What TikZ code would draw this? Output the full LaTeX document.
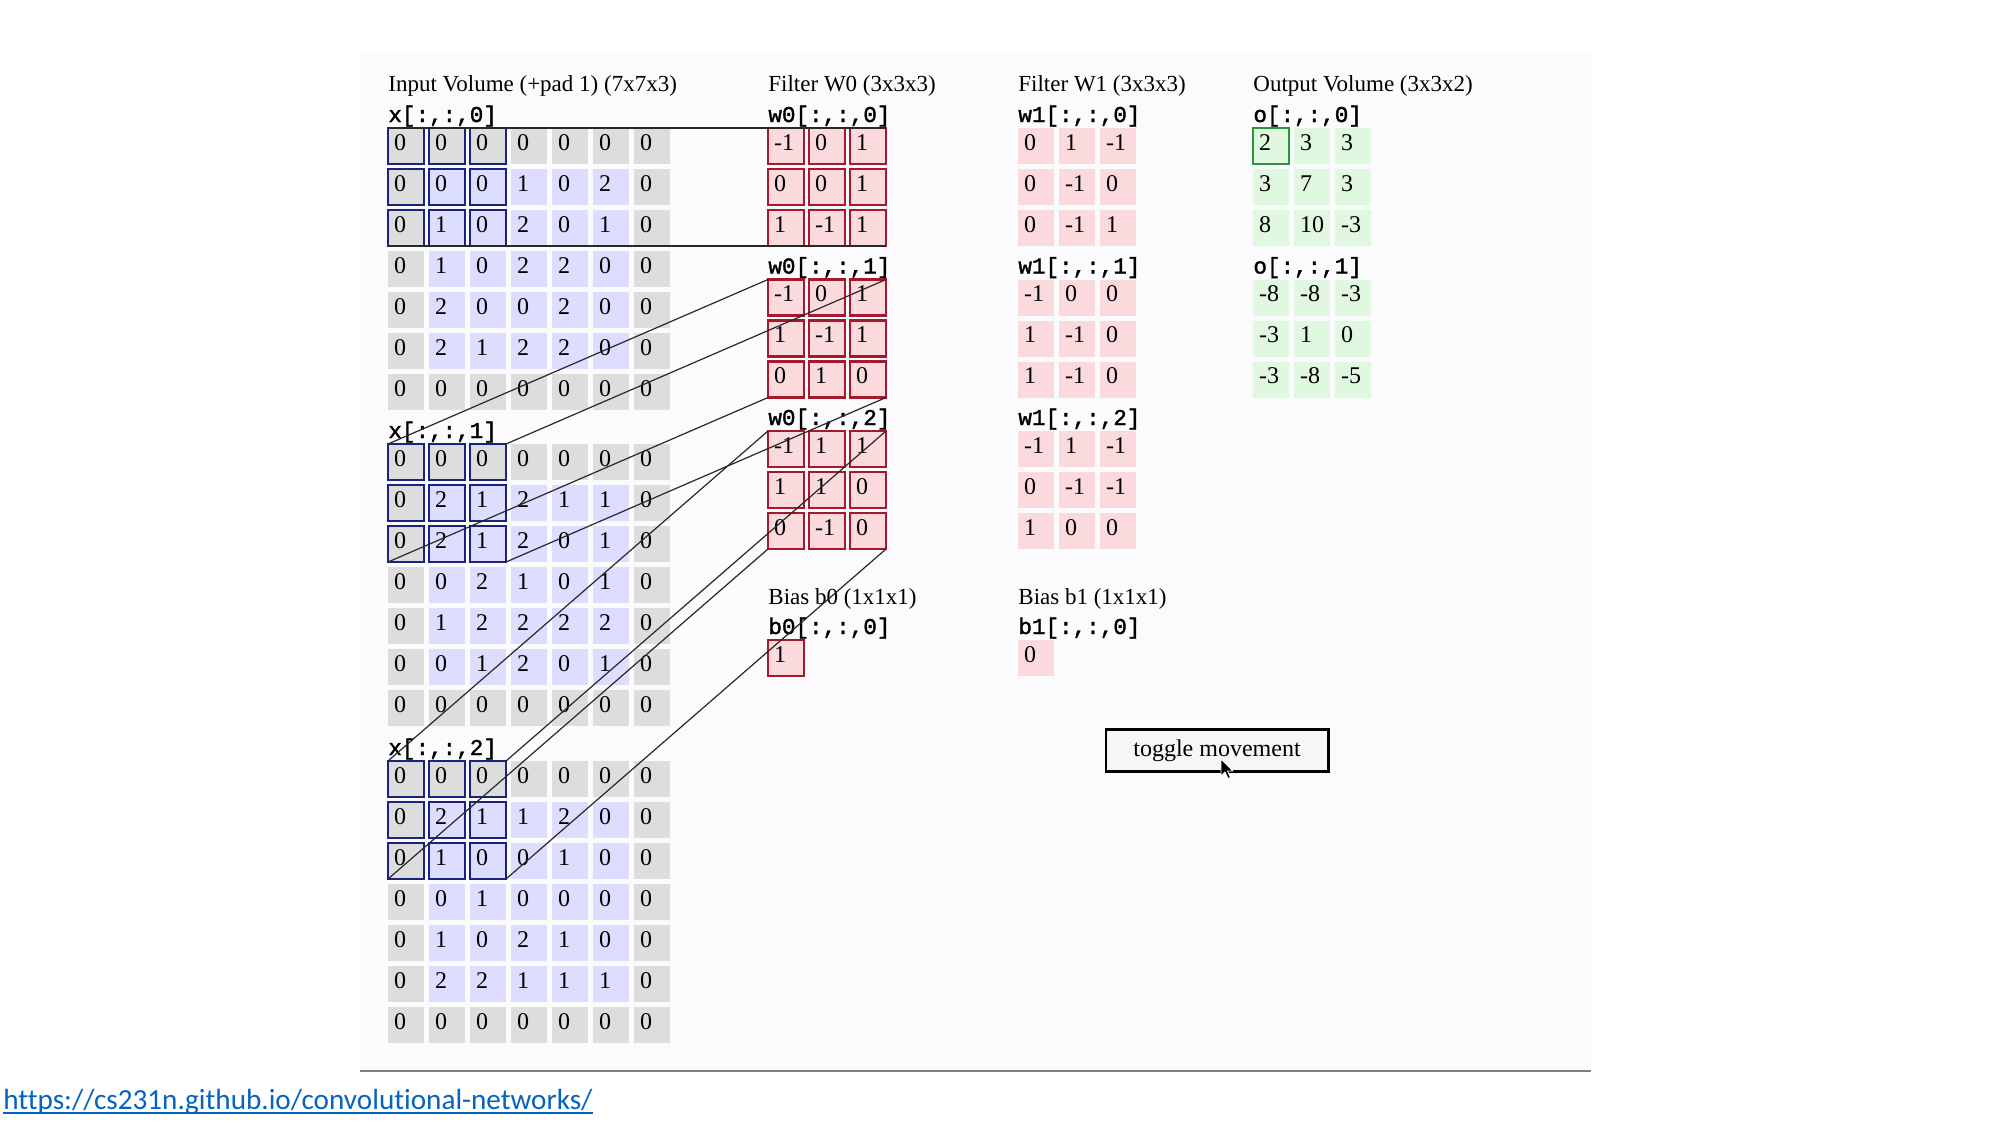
\documentclass[tikz,border=0pt]{standalone}
\usepackage{fontspec}
\setmainfont{Liberation Serif}
\newfontfamily\codefont{Liberation Mono}[BoldFont=Liberation Mono, BoldFeatures={FakeBold=1.6}]
\newfontfamily\linkfont{Carlito}[Ligatures=NoCommon]
\definecolor{padgray}{RGB}{221,221,221}
\definecolor{inblue}{RGB}{221,221,255}
\definecolor{winnavy}{RGB}{26,35,126}
\definecolor{fltpink}{RGB}{250,218,220}
\definecolor{fltred}{RGB}{165,25,45}
\definecolor{outgreen}{RGB}{224,247,224}
\definecolor{outborder}{RGB}{45,150,60}
\definecolor{webbg}{RGB}{251,250,253}
\definecolor{wirecol}{RGB}{40,40,40}
\definecolor{btnfill}{RGB}{246,246,248}
\definecolor{linkblue}{RGB}{5,99,193}

\begin{document}
\begin{tikzpicture}[x=0.5pt,y=0.5pt,yscale=-1,
  numcell/.style={rectangle, anchor=north west, inner xsep=3pt, inner ysep=0pt, outer sep=0pt,
    minimum width=18pt, minimum height=18pt, text width=12pt, align=left,
    text height=8.6pt, text depth=4.6pt, font=\fontsize{12}{14}\selectfont},
  winbox/.style={draw=winnavy, line width=1.4pt},
  fltbox/.style={draw=fltred, line width=1.4pt},
  outbox/.style={draw=outborder, line width=1.4pt},
  headtext/.style={anchor=base west, inner sep=0pt, font=\fontsize{11.5}{14}\selectfont},
  slicetext/.style={anchor=base west, inner sep=0pt, font=\codefont\bfseries\fontsize{11.3}{13}\selectfont},
  wire/.style={draw=wirecol, line width=0.6pt},
  button/.style={draw=black, line width=1.3pt, fill=btnfill, minimum width=111.2pt, minimum height=21.2pt,
    inner sep=0pt, font=\fontsize{12}{14}\selectfont},
  linktext/.style={anchor=base west, inner sep=0pt, text=linkblue, font=\linkfont\fontsize{14.6}{16}\selectfont}]
\useasboundingbox (0,0) rectangle (2000,1125);
\fill[white] (0,0) rectangle (2000,1125);

%Shape: page area
\fill[webbg] (360,52) rectangle (1591,1071);
\draw[gray, line width=0.8pt] (360,1071) -- (1591,1071);

% Text Node
\node[headtext] (intitle) at (388,91) {Input Volume (+pad 1) (7x7x3)};
\node[headtext] (w0title) at (768,91) {Filter W0 (3x3x3)};
\node[headtext] (w1title) at (1018,91) {Filter W1 (3x3x3)};
\node[headtext] (otitle) at (1253,91) {Output Volume (3x3x2)};

% Text Node
\node[slicetext] (x0lab) at (388,122) {x[:,:,0]};
\node[slicetext] (x1lab) at (388,438) {x[:,:,1]};
\node[slicetext] (x2lab) at (388,755) {x[:,:,2]};
\node[slicetext] (w0alab) at (768,122) {w0[:,:,0]};
\node[slicetext] (w0blab) at (768,273.5) {w0[:,:,1]};
\node[slicetext] (w0clab) at (768,425) {w0[:,:,2]};
\node[slicetext] (w1alab) at (1018,122) {w1[:,:,0]};
\node[slicetext] (w1blab) at (1018,273.5) {w1[:,:,1]};
\node[slicetext] (w1clab) at (1018,425) {w1[:,:,2]};
\node[slicetext] (o0lab) at (1253,122) {o[:,:,0]};
\node[slicetext] (o1lab) at (1253,273.5) {o[:,:,1]};

%Input volume x[:,:,0]
\foreach \row [count=\r from 0] in {{0,0,0,0,0,0,0},{0,0,0,1,0,2,0},{0,1,0,2,0,1,0},{0,1,0,2,2,0,0},{0,2,0,0,2,0,0},{0,2,1,2,2,0,0},{0,0,0,0,0,0,0}}
  \foreach \v [count=\c from 0] in \row {
    \pgfmathtruncatemacro\pad{(\r==0)||(\r==6)||(\c==0)||(\c==6)}
    \ifnum\pad=1 \def\cellfill{padgray}\else\def\cellfill{inblue}\fi
    \node[numcell, fill=\cellfill] (x0-\r-\c) at (388+41*\c,128+41*\r) {\v};
  }
%Input volume x[:,:,1]
\foreach \row [count=\r from 0] in {{0,0,0,0,0,0,0},{0,2,1,2,1,1,0},{0,2,1,2,0,1,0},{0,0,2,1,0,1,0},{0,1,2,2,2,2,0},{0,0,1,2,0,1,0},{0,0,0,0,0,0,0}}
  \foreach \v [count=\c from 0] in \row {
    \pgfmathtruncatemacro\pad{(\r==0)||(\r==6)||(\c==0)||(\c==6)}
    \ifnum\pad=1 \def\cellfill{padgray}\else\def\cellfill{inblue}\fi
    \node[numcell, fill=\cellfill] (x1-\r-\c) at (388+41*\c,444+41*\r) {\v};
  }
%Input volume x[:,:,2]
\foreach \row [count=\r from 0] in {{0,0,0,0,0,0,0},{0,2,1,1,2,0,0},{0,1,0,0,1,0,0},{0,0,1,0,0,0,0},{0,1,0,2,1,0,0},{0,2,2,1,1,1,0},{0,0,0,0,0,0,0}}
  \foreach \v [count=\c from 0] in \row {
    \pgfmathtruncatemacro\pad{(\r==0)||(\r==6)||(\c==0)||(\c==6)}
    \ifnum\pad=1 \def\cellfill{padgray}\else\def\cellfill{inblue}\fi
    \node[numcell, fill=\cellfill] (x2-\r-\c) at (388+41*\c,761+41*\r) {\v};
  }

%Filter W0
\foreach \row [count=\r from 0] in {{-1,0,1},{0,0,1},{1,-1,1}}
  \foreach \v [count=\c from 0] in \row
    \node[numcell, fill=fltpink] (w0a-\r-\c) at (768+41*\c,128+41*\r) {\v};
\foreach \row [count=\r from 0] in {{-1,0,1},{1,-1,1},{0,1,0}}
  \foreach \v [count=\c from 0] in \row
    \node[numcell, fill=fltpink] (w0b-\r-\c) at (768+41*\c,279.5+41*\r) {\v};
\foreach \row [count=\r from 0] in {{-1,1,1},{1,1,0},{0,-1,0}}
  \foreach \v [count=\c from 0] in \row
    \node[numcell, fill=fltpink] (w0c-\r-\c) at (768+41*\c,431+41*\r) {\v};

%Filter W1
\foreach \row [count=\r from 0] in {{0,1,-1},{0,-1,0},{0,-1,1}}
  \foreach \v [count=\c from 0] in \row
    \node[numcell, fill=fltpink] (w1a-\r-\c) at (1018+41*\c,128+41*\r) {\v};
\foreach \row [count=\r from 0] in {{-1,0,0},{1,-1,0},{1,-1,0}}
  \foreach \v [count=\c from 0] in \row
    \node[numcell, fill=fltpink] (w1b-\r-\c) at (1018+41*\c,279.5+41*\r) {\v};
\foreach \row [count=\r from 0] in {{-1,1,-1},{0,-1,-1},{1,0,0}}
  \foreach \v [count=\c from 0] in \row
    \node[numcell, fill=fltpink] (w1c-\r-\c) at (1018+41*\c,431+41*\r) {\v};

%Bias
\node[headtext] (b0title) at (768,604) {Bias b0 (1x1x1)};
\node[headtext] (b1title) at (1018,604) {Bias b1 (1x1x1)};
\node[slicetext] (b0lab) at (768,634) {b0[:,:,0]};
\node[slicetext] (b1lab) at (1018,634) {b1[:,:,0]};
\node[numcell, fill=fltpink] (b0) at (768,640) {1};
\node[numcell, fill=fltpink] (b1) at (1018,640) {0};

%Output volume
\foreach \row [count=\r from 0] in {{2,3,3},{3,7,3},{8,10,-3}}
  \foreach \v [count=\c from 0] in \row
    \node[numcell, fill=outgreen] (o0-\r-\c) at (1253+41*\c,128+41*\r) {\v};
\foreach \row [count=\r from 0] in {{-8,-8,-3},{-3,1,0},{-3,-8,-5}}
  \foreach \v [count=\c from 0] in \row
    \node[numcell, fill=outgreen] (o1-\r-\c) at (1253+41*\c,279.5+41*\r) {\v};

%Highlight boxes
\foreach \d in {0,1,2}
  \foreach \r in {0,1,2}
    \foreach \c in {0,1,2}
      \draw[winbox] (x\d-\r-\c.north west) rectangle (x\d-\r-\c.south east);
\foreach \s in {a,b,c}
  \foreach \r in {0,1,2}
    \foreach \c in {0,1,2}
      \draw[fltbox] (w0\s-\r-\c.north west) rectangle (w0\s-\r-\c.south east);
\draw[fltbox] (b0.north west) rectangle (b0.south east);
\draw[outbox] (o0-0-0.north west) rectangle (o0-0-0.south east);

%Straight Lines
\foreach \d/\s in {0/a,1/b,2/c} {
  \draw[wire] (x\d-0-0.north west) -- (w0\s-0-0.north west);
  \draw[wire] (x\d-0-2.north east) -- (w0\s-0-2.north east);
  \draw[wire] (x\d-2-0.south west) -- (w0\s-2-0.south west);
  \draw[wire] (x\d-2-2.south east) -- (w0\s-2-2.south east);
}

%Button
\node[button] (toggle) at (1217,750.5) {toggle movement};
%Shape: cursor
\draw[white, fill=black, line width=0.4pt, line join=round] (1221,759) -- (1221,776) -- (1225,772) -- (1228,778.5) -- (1230.5,777.5) -- (1227.5,771) -- (1233,771) -- cycle;

% Text Node
\node[linktext] (link) at (3,1109) {https://cs231n.github.io/convolutional-networks/};
\path (link.base west) ++(0,4) coordinate (ul1);
\path (link.base east) ++(0,4) coordinate (ul2);
\draw[linkblue, line width=0.8pt] (ul1) -- (ul2);

\end{tikzpicture}
\end{document}
